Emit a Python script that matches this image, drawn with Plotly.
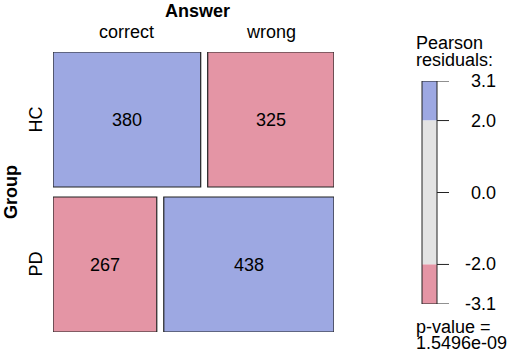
import plotly.graph_objects as go

groups = ["HC", "PD"]
answers = ["correct", "wrong"]
counts = {"HC": [380, 325], "PD": [267, 438]}
residual_sign = {"HC": [1, -1], "PD": [-1, 1]}
legend_breaks = [3.1, 2.0, 0.0, -2.0, -3.1]
legend_labels = ["3.1", "2.0", "0.0", "-2.0", "-3.1"]
legend_title = ["Pearson", "residuals:"]
p_value_lines = ["p-value =", "1.5496e-09"]

W, H = 510, 354
BLUE = "#9DA8E2"
PINK = "#E495A5"
GREY = "#E3E3E3"
EDGE = "#222222"
FONT = "Liberation Sans, Arial, sans-serif"
FS = 18

fig = go.Figure()

gx = 7 / 274
gy = 10 / 270
x0p, x1p = 53, 334
y0p, y1p = 52, 332
fig.update_layout(
    xaxis=dict(domain=[x0p / W, x1p / W], range=[0, 1 + gx], visible=False, fixedrange=True),
    yaxis=dict(domain=[1 - y1p / H, 1 - y0p / H], range=[1 + gy, 0], visible=False, fixedrange=True),
    xaxis2=dict(domain=[0, 1], range=[0, W], visible=False, anchor="y2", fixedrange=True),
    yaxis2=dict(domain=[1 - 304 / H, 1 - 81 / H], range=[-3.1, 3.1], visible=False, anchor="x2",
                fixedrange=True),
)

def font():
    return dict(size=FS, color="black", family=FONT)

grand = sum(sum(v) for v in counts.values())
ypos = 0.0
shapes = []
annotations = []
for gi, g in enumerate(groups):
    tot = sum(counts[g])
    h = tot / grand
    xpos = 0.0
    for ai, a in enumerate(answers):
        w = counts[g][ai] / tot
        color = BLUE if residual_sign[g][ai] > 0 else PINK
        shapes.append(dict(type="rect", xref="x", yref="y", x0=xpos, x1=xpos + w,
                           y0=ypos, y1=ypos + h, fillcolor=color,
                           line=dict(color=EDGE, width=1.2), layer="above"))
        annotations.append(dict(x=xpos + w / 2, y=ypos + h / 2, xref="x", yref="y",
                                text=str(counts[g][ai]), showarrow=False,
                                xanchor="center", yanchor="middle", font=font()))
        xpos += w + gx
    annotations.append(dict(x=35 / W, y=ypos + h / 2, xref="paper", yref="y",
                            text=g, textangle=-90, showarrow=False,
                            xanchor="center", yanchor="middle", font=font()))
    ypos += h + gy

tot = sum(counts[groups[0]])
xpos = 0.0
for ai, a in enumerate(answers):
    w = counts[groups[0]][ai] / tot
    annotations.append(dict(x=xpos + w / 2, y=1 - 32 / H, xref="x", yref="paper",
                            text=a, showarrow=False, xanchor="center", yanchor="middle",
                            font=font()))
    xpos += w + gx

annotations.append(dict(x=197 / W, y=1 - 11 / H, xref="paper", yref="paper", text="<b>Answer</b>",
                        showarrow=False, xanchor="center", yanchor="middle", font=font()))
annotations.append(dict(x=11 / W, y=1 - 192 / H, xref="paper", yref="paper", text="<b>Group</b>",
                        textangle=-90, showarrow=False, xanchor="center", yanchor="middle",
                        font=font()))

bx0, bx1, tx = 422, 437, 449
for lo, hi, col in [(2.0, 3.1, BLUE), (-2.0, 2.0, GREY), (-3.1, -2.0, PINK)]:
    shapes.append(dict(type="rect", xref="x2", yref="y2", x0=bx0, x1=bx1, y0=lo, y1=hi,
                       fillcolor=col, line=dict(width=0)))
shapes.append(dict(type="rect", xref="x2", yref="y2", x0=bx0, x1=bx1, y0=-3.1, y1=3.1,
                   fillcolor="rgba(0,0,0,0)", line=dict(color=EDGE, width=1)))
for v, lab in zip(legend_breaks, legend_labels):
    shapes.append(dict(type="line", xref="x2", yref="y2", x0=bx1, x1=tx, y0=v, y1=v,
                       line=dict(color=EDGE, width=1)))
    annotations.append(dict(x=498, y=v, xref="x2", yref="y2", text=lab, xanchor="right",
                            yanchor="middle", showarrow=False, font=font()))

for txt, yp in zip(legend_title, [43, 60]):
    annotations.append(dict(x=414 / W, y=1 - yp / H, xref="paper", yref="paper",
                            text=txt, xanchor="left", yanchor="middle",
                            showarrow=False, font=font()))
for txt, yp in zip(p_value_lines, [327, 343]):
    annotations.append(dict(x=414 / W, y=1 - yp / H, xref="paper", yref="paper",
                            text=txt, xanchor="left", yanchor="middle",
                            showarrow=False, font=font()))

fig.update_layout(
    width=W, height=H,
    margin=dict(l=0, r=0, t=0, b=0),
    paper_bgcolor="white", plot_bgcolor="white",
    shapes=shapes, annotations=annotations, showlegend=False,
)
fig.write_html("out.html", config={"displayModeBar": False},
               post_script="document.body.style.margin='0px';")
